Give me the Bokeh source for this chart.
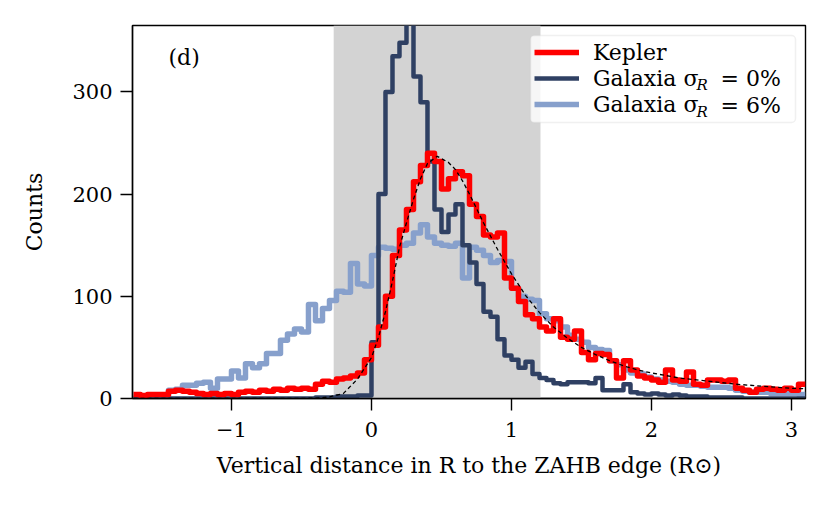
import numpy as np
from bokeh.plotting import figure
from bokeh.models import Label, BoxAnnotation, Legend, LegendItem, FixedTicker
from bokeh.embed import file_html
from bokeh.resources import INLINE

# ---------------- data ----------------
BIN_START = -1.70
BIN_WIDTH = 0.05

kepler = [4, 3, 4, 4, 4, 7, 8, 7, 6, 5,
          4, 5, 4, 5, 4, 6, 7, 6, 8, 7,
          9, 8, 10, 9, 10, 9, 14, 17, 16, 19,
          20, 22, 25, 38, 52, 70, 100, 140, 165, 185,
          212, 228, 240, 232, 205, 215, 222, 218, 190, 178,
          160, 158, 162, 118, 108, 95, 82, 78, 70, 66,
          78, 60, 58, 66, 45, 38, 44, 43, 37, 20,
          37, 28, 22, 20, 18, 16, 28, 18, 17, 26,
          14, 13, 18, 18, 17, 18, 10, 8, 6, 9,
          10, 9, 8, 10, 8, 14]

galaxia_0 = [0, 0, 0, 0, 0, 0, 0, 0, 0, 0,
             0, 0, 0, 0, 0, 0, 0, 0, 0, 0,
             0, 0, 0, 0, 0, 0, 1, 1, 1, 2,
             2, 2, 3, 3, 55, 200, 300, 335, 348, 380,
             315, 290, 232, 185, 163, 180, 190, 150, 133, 112,
             85, 80, 58, 42, 38, 30, 36, 24, 20, 18,
             15, 14, 16, 16, 16, 15, 20, 8, 8, 8,
             14, 6, 5, 4, 5, 4, 3, 4, 3, 2,
             2, 2, 1, 1, 1, 1, 1, 0, 0, 0,
             0, 0, 0, 0, 0, 0]

galaxia_6 = [1, 1, 2, 2, 3, 8, 9, 13, 13, 15,
             16, 10, 19, 19, 27, 20, 34, 30, 34, 44,
             44, 57, 63, 68, 65, 92, 76, 88, 96, 105,
             104, 132, 112, 110, 140, 148, 147, 146, 150, 152,
             162, 170, 158, 152, 150, 149, 152, 118, 148, 145,
             140, 133, 135, 134, 108, 100, 97, 96, 83, 78,
             76, 70, 62, 58, 55, 50, 48, 47, 37, 33,
             28, 25, 24, 21, 19, 18, 17, 16, 14, 13,
             13, 12, 11, 11, 11, 10, 8, 7, 6, 6,
             6, 5, 5, 5, 5, 4]

fit_x = [-1.7, -0.6, -0.4, -0.3, -0.2, -0.1, 0.0, 0.05, 0.1, 0.15, 0.2, 0.25,
         0.3, 0.35, 0.4, 0.47, 0.55, 0.6, 0.65, 0.7, 0.8, 0.9, 1.0, 1.1, 1.2,
         1.3, 1.4, 1.5, 1.6, 1.7, 1.8, 1.9, 2.0, 2.2, 2.4, 2.6, 2.8, 3.0, 3.1]
fit_y = [0, 0, 0.3, 1.5, 5, 19, 40, 60, 85, 115, 148, 172,
         195, 215, 230, 237, 231, 224, 213, 200, 172, 146, 122, 101, 84,
         70, 59, 50, 43, 37, 32, 28, 25, 20, 17, 14, 12, 10, 9.5]

band_left, band_right = -0.27, 1.207

x_ticks = [-1, 0, 1, 2, 3]
y_ticks = [0, 100, 200, 300]

labels = ["Kepler", "Galaxia σ", "Galaxia σ"]
sub_label = "R"
suffixes = ["= 0%", "= 6%"]

colors = {"kepler": "#ff0000", "g0": "#2f4063", "g6": "#87a0cc"}
FONT = "DejaVu Serif"
FS_TICK = "21px"
FS_LABEL = "22px"
FS_LEG = "22px"

# ---------------- figure ----------------
p = figure(width=830, height=513, x_range=(-1.707, 3.1), y_range=(0, 365),
           output_backend="svg", toolbar_location=None,
           min_border_left=132, min_border_right=25, min_border_top=25,
           min_border_bottom=115)
p.grid.visible = False
p.outline_line_color = "black"
p.outline_line_width = 1.4
p.background_fill_color = "white"

band = BoxAnnotation(left=band_left, right=band_right, fill_color="#d3d3d3",
                     fill_alpha=1.0, line_color=None, level="underlay")
p.add_layout(band)

n = len(kepler)
edges = BIN_START + BIN_WIDTH * np.arange(n + 1)

def ext(v):
    return list(v) + [v[-1]]

r6 = p.step(x=edges, y=ext(galaxia_6), mode="after", line_color=colors["g6"],
            line_width=5.5, line_join="round")
r0 = p.step(x=edges, y=ext(galaxia_0), mode="after", line_color=colors["g0"],
            line_width=4.5, line_join="round")
rk = p.step(x=edges, y=ext(kepler), mode="after", line_color=colors["kepler"],
            line_width=5.5, line_join="round")
p.line(fit_x, fit_y, line_color="black", line_width=1.3, line_dash="4 3")

for ax in (p.xaxis, p.yaxis):
    ax.axis_line_width = 1.4
    ax.major_tick_line_width = 1.4
    ax.major_tick_out = 12
    ax.major_tick_in = 0
    ax.minor_tick_out = 0
    ax.minor_tick_in = 0
    ax.major_label_text_font = FONT
    ax.major_label_text_font_size = FS_TICK
    ax.major_label_text_color = "black"
    ax.axis_label_text_font = FONT
    ax.axis_label_text_font_size = FS_LABEL
    ax.axis_label_text_font_style = "normal"
    ax.axis_label_text_color = "black"

p.xaxis.major_label_standoff = 11
p.yaxis.major_label_standoff = 8
p.xaxis.ticker = FixedTicker(ticks=x_ticks)
p.xaxis.major_label_overrides = {-1: "−1"}
p.yaxis.ticker = FixedTicker(ticks=y_ticks)
p.xaxis.axis_label = "Vertical distance in R to the ZAHB edge (R⊙)"
p.yaxis.axis_label = "Counts"
p.xaxis.axis_label_standoff = 13
p.yaxis.axis_label_standoff = 22

# legend frame (frame-relative screen units)
legend_box = BoxAnnotation(left=398, right=663, bottom=276, top=363,
                           left_units="screen", right_units="screen",
                           bottom_units="screen", top_units="screen",
                           fill_color="white", fill_alpha=0.8,
                           line_color="#cccccc", line_width=1.5,
                           border_radius=4)
p.add_layout(legend_box)

legend = Legend(items=[LegendItem(label=labels[0], renderers=[rk]),
                       LegendItem(label=labels[1], renderers=[r0]),
                       LegendItem(label=labels[2], renderers=[r6])],
                location="top_right", margin=10, padding=4, spacing=0,
                glyph_width=45, glyph_height=26, label_standoff=14,
                label_width=198, label_height=26,
                label_text_font=FONT, label_text_font_size=FS_LEG,
                label_text_color="black",
                border_line_alpha=0, background_fill_alpha=0)
p.add_layout(legend)

# subscripts and suffixes in legend (frame-relative screen units)
for i, row_y in enumerate([320, 293]):
    p.add_layout(Label(x=564, y=row_y - 6, x_units="screen", y_units="screen",
                       text=sub_label, text_font=FONT, text_font_style="italic",
                       text_font_size="15px", text_baseline="middle",
                       text_color="black", level="overlay"))
    p.add_layout(Label(x=588, y=row_y, x_units="screen", y_units="screen",
                       text=suffixes[i], text_font=FONT, text_font_size=FS_LEG,
                       text_baseline="middle", text_color="black",
                       level="overlay"))

p.add_layout(Label(x=-1.45, y=334, text="(d)", text_font=FONT,
                   text_font_size=FS_LABEL, text_baseline="middle",
                   text_color="black"))

open("out.html", "w").write(file_html(p, INLINE))
